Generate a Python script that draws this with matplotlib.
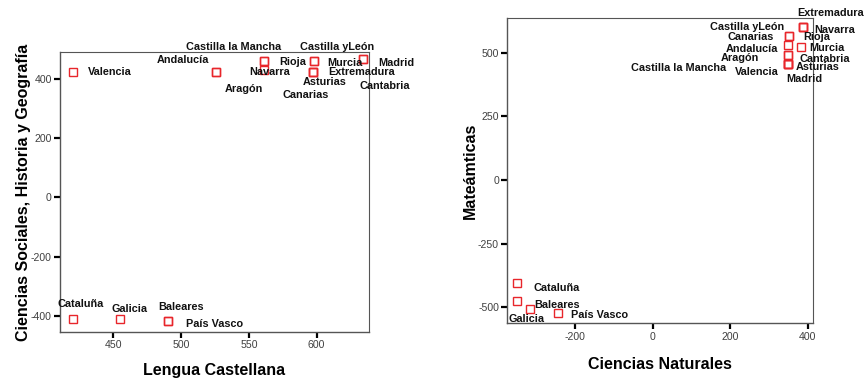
import numpy as np
import matplotlib.pyplot as plt
import matplotlib as mpl

mpl.rcParams['font.family'] = ['Liberation Sans', 'DejaVu Sans']
mpl.rcParams['axes.unicode_minus'] = False

# Left panel: Lengua Castellana vs Ciencias Sociales
regions_l = ['Valencia', 'Andalucía', 'Aragón', 'Castilla la Mancha', 'Rioja', 'Navarra',
             'Castilla yLeón', 'Murcia', 'Extremadura', 'Asturias', 'Canarias',
             'Madrid', 'Cantabria', 'Cataluña', 'Galicia', 'Baleares', 'País Vasco']
lengua = [420, 526, 526, 561, 561, 561, 598, 598, 597, 597, 597, 634, 634, 420, 455, 490, 490]
sociales = [425, 425, 425, 462, 462, 431, 462, 462, 424, 424, 424, 468, 468, -412, -412, -417, -417]

# Right panel: Ciencias Naturales vs Matemáticas
regions_r = ['Extremadura', 'Navarra', 'Castilla yLeón', 'Canarias', 'Rioja', 'Andalucía',
             'Murcia', 'Aragón', 'Cantabria', 'Castilla la Mancha', 'Valencia', 'Asturias',
             'Madrid', 'Cataluña', 'Baleares', 'Galicia', 'País Vasco']
naturales = [387, 387, 387, 352, 352, 350, 382, 350, 350, 350, 350, 350, 350, -352, -352, -317, -246]
matematicas = [602, 602, 602, 566, 566, 530, 522, 491, 491, 454, 454, 454, 454, -403, -475, -507, -521]

# label placement (pixel offsets from the marker, alignment)
lab_l = {'Valencia': (15, 0, 'left'), 'Andalucía': (-33, 12, 'center'),
         'Aragón': (27, -17, 'center'), 'Castilla la Mancha': (-30, 14, 'center'),
         'Rioja': (15, -1, 'left'), 'Navarra': (6, -2, 'center'),
         'Castilla yLeón': (23, 14, 'center'), 'Murcia': (13, -2, 'left'),
         'Extremadura': (16, 0, 'left'), 'Asturias': (12, -10, 'center'),
         'Canarias': (-7, -23, 'center'), 'Madrid': (16, -4, 'left'),
         'Cantabria': (-3, -27, 'left'), 'Cataluña': (8, 15, 'center'),
         'Galicia': (9, 10, 'center'), 'Baleares': (13, 14, 'center'),
         'País Vasco': (18, -3, 'left')}
lab_r = {'Extremadura': (28, 14, 'center'), 'Castilla yLeón': (-19, 0, 'right'),
         'Navarra': (12, -3, 'left'), 'Canarias': (-15, -1, 'right'),
         'Rioja': (14, -1, 'left'), 'Andalucía': (-10, -4, 'right'),
         'Murcia': (9, -1, 'left'), 'Aragón': (-29, -3, 'right'),
         'Cantabria': (11, -4, 'left'), 'Castilla la Mancha': (-62, -4, 'right'),
         'Valencia': (-10, -8, 'right'), 'Asturias': (7, -3, 'left'),
         'Madrid': (16, -15, 'center'), 'Cataluña': (17, -5, 'left'),
         'Baleares': (18, -4, 'left'), 'Galicia': (-4, -10, 'center'),
         'País Vasco': (13, -2, 'left')}

fig = plt.figure(figsize=(8.66, 3.78), dpi=100)
ax1 = fig.add_axes([0.0693, 0.1217, 0.3568, 0.7407])
ax2 = fig.add_axes([0.5858, 0.1447, 0.3527, 0.8069])


def draw(ax, x, y, names, labs):
    ax.plot(x, y, ls='none', marker='s', ms=6.2, mfc='none', mec='#e8262b', mew=1.0)
    for xi, yi, n in zip(x, y, names):
        dx, dy, ha = labs[n]
        ax.annotate(n, (xi, yi), xytext=(dx, dy), textcoords='offset pixels',
                    ha=ha, va='center', fontsize=7.8, fontweight='bold',
                    color='#111111', annotation_clip=False)
    for s in ax.spines.values():
        s.set_color('#555555')
        s.set_linewidth(1.0)
    ax.spines['top'].set_linewidth(0.8)
    ax.spines['right'].set_linewidth(0.8)
    ax.tick_params(direction='out', length=4, width=1.6, color='black',
                   labelsize=7.6, labelcolor='#404040', pad=2)


draw(ax1, lengua, sociales, regions_l, lab_l)
ax1.set_xlim(410.5, 638.7)
ax1.set_ylim(-455, 492)
ax1.set_xticks([450, 500, 550, 600])
ax1.set_yticks([-400, -200, 0, 200, 400])
ax1.set_xlabel('Lengua Castellana', fontsize=11.5, fontweight='bold', labelpad=9)
ax1.set_ylabel('Ciencias Sociales, Historia y Geografía', fontsize=11.5,
               fontweight='bold', labelpad=0)

draw(ax2, naturales, matematicas, regions_r, lab_r)
ax2.set_xlim(-376, 413)
ax2.set_ylim(-563, 635)
ax2.set_xticks([-200, 0, 200, 400])
ax2.set_yticks([-500, -250, 0, 250, 500])
ax2.set_xlabel('Ciencias Naturales', fontsize=11.5, fontweight='bold', labelpad=11)
ax2.set_ylabel('Mateámticas', fontsize=11.5, fontweight='bold', labelpad=0)

plt.savefig('out.png', dpi=100)
plt.close()
